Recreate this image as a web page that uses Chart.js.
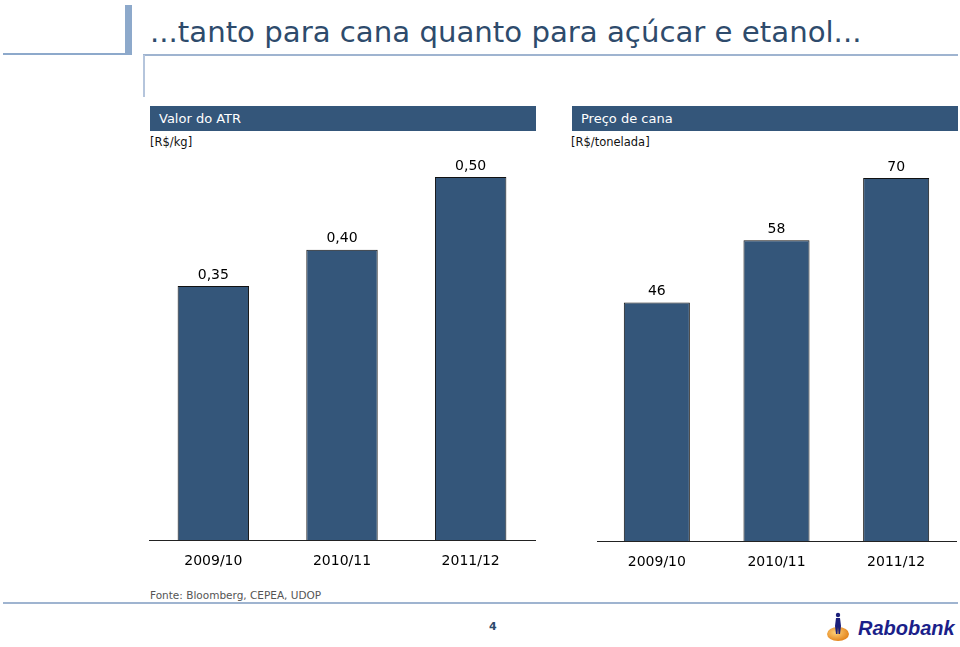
<!DOCTYPE html>
<html>
<head>
<meta charset="utf-8">
<script src="https://cdn.jsdelivr.net/npm/chart.js@4"></script>
<style>
  body { margin: 0; width: 960px; height: 647px; background: #fff; position: relative; overflow: hidden; font-family: "DejaVu Sans", Verdana, sans-serif; }
  .abs { position: absolute; }
  .hdr { position: absolute; height: 25px; background: #34567a; color: #fff; font-size: 13px; line-height: 25px; padding-left: 9px; box-sizing: border-box; }
  .unit { position: absolute; font-size: 11.5px; color: #111; }
</style>
</head>
<body>
<!-- decoration -->
<div class="abs" style="left:125px;top:5px;width:7px;height:49px;background:#8da9cb"></div>
<div class="abs" style="left:3px;top:53px;width:129px;height:2px;background:#8da9cb"></div>
<div class="abs" style="left:143px;top:54px;width:815px;height:2px;background:#9fb4d0"></div>
<div class="abs" style="left:143px;top:55px;width:2px;height:42px;background:#b5c5dc"></div>
<div class="abs" style="left:150px;top:15px;font-size:29.2px;color:#2e4b6c;white-space:nowrap">...tanto para cana quanto para açúcar e etanol...</div>

<div class="hdr" style="left:150px;top:106px;width:386px">Valor do ATR</div>
<div class="hdr" style="left:572px;top:106px;width:386px">Preço de cana</div>
<div class="unit" style="left:150px;top:135px">[R$/kg]</div>
<div class="unit" style="left:571px;top:135px">[R$/tonelada]</div>

<div class="abs" style="left:140px;top:145px;width:400px;height:440px"><canvas id="atrChart"></canvas></div>
<div class="abs" style="left:590px;top:145px;width:370px;height:440px"><canvas id="canaChart"></canvas></div>

<div class="abs" style="left:150px;top:589px;font-size:10.5px;color:#555">Fonte: Bloomberg, CEPEA, UDOP</div>
<div class="abs" style="left:3px;top:602px;width:955px;height:2px;background:#9fb4d0"></div>
<div class="abs" style="left:489px;top:620px;font-size:11px;font-weight:bold;color:#2e4b6c">4</div>

<!-- logo -->
<svg class="abs" style="left:824px;top:610px" width="30" height="34">
  <defs><radialGradient id="g" cx="0.4" cy="0.4" r="0.7"><stop offset="0" stop-color="#ffd27a"/><stop offset="1" stop-color="#e07a10"/></radialGradient></defs>
  <ellipse cx="14" cy="24" rx="11" ry="7" fill="url(#g)"/>
  <circle cx="14" cy="5" r="2.2" fill="#1b1f7a"/>
  <path d="M12 8 L16 8 L17 16 L16 24 L14.5 24 L14 17 L13.5 24 L12 24 L11 16 Z" fill="#1b1f7a"/>
</svg>
<div class="abs" style="left:858px;top:617px;font-family:'Liberation Sans',Arial,sans-serif;font-size:20px;font-weight:bold;font-style:italic;color:#1b1f8a">Rabobank</div>

<script>
/* ---------- DATA ---------- */
const safras = ["2009/10", "2010/11", "2011/12"];
const atrValues = [0.35, 0.40, 0.50];      // R$/kg
const canaValues = [46, 58, 70];           // R$/tonelada

const BAR_COLOR = "#34567a";

/* ---------- VALUE LABELS ABOVE BARS ---------- */
const valueLabels = {
  id: "valueLabels",
  afterDatasetsDraw(chart, args, opts) {
    const ctx = chart.ctx;
    const meta = chart.getDatasetMeta(0);
    ctx.save();
    ctx.font = "14px 'DejaVu Sans', Verdana, sans-serif";
    ctx.fillStyle = "#000";
    ctx.textAlign = "center";
    ctx.textBaseline = "middle";
    meta.data.forEach((bar, i) => {
      const v = chart.data.datasets[0].data[i];
      ctx.fillText(opts.format(v), bar.x, bar.y - 11);
    });
    ctx.restore();
  }
};

function makeChart(id, values, max, barPct, padding, fmt) {
  return new Chart(document.getElementById(id), {
    type: "bar",
    data: {
      labels: safras,
      datasets: [{
        data: values,
        backgroundColor: BAR_COLOR,
        borderColor: "#111",
        borderWidth: 1,
        categoryPercentage: 1,
        barPercentage: barPct
      }]
    },
    options: {
      responsive: true,
      maintainAspectRatio: false,
      animation: false,
      layout: { padding: padding },
      plugins: {
        legend: { display: false },
        tooltip: { enabled: false },
        valueLabels: { format: fmt }
      },
      scales: {
        x: {
          grid: { display: false, drawTicks: false },
          border: { display: true, color: "#222", width: 1 },
          ticks: { color: "#000", padding: 13, font: { family: "'DejaVu Sans', Verdana, sans-serif", size: 14 } }
        },
        y: { display: false, min: 0, max: max }
      }
    },
    plugins: [valueLabels]
  });
}

makeChart("atrChart", atrValues, 0.5, 0.555,
  { left: 9, right: 5, top: 32, bottom: 2 },
  v => v.toFixed(2).replace(".", ","));

makeChart("canaChart", canaValues, 70, 0.552,
  { left: 7, right: 4, top: 33, bottom: 1 },
  v => String(v));
</script>
</body>
</html>
